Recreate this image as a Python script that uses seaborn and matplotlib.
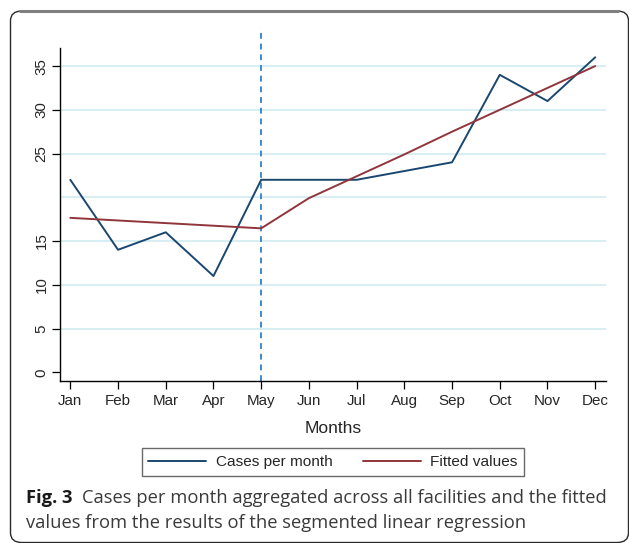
import matplotlib
matplotlib.use("Agg")
import matplotlib.pyplot as plt
import seaborn as sns
import pandas as pd
from matplotlib.patches import FancyBboxPatch
from matplotlib.lines import Line2D

months = ["Jan", "Feb", "Mar", "Apr", "May", "Jun", "Jul", "Aug", "Sep", "Oct", "Nov", "Dec"]
cases = [22, 14, 16, 11, 22, 22, 22, 23, 24, 34, 31, 36]
fitted = [17.65, 17.35, 17.05, 16.75, 16.45, 19.9, 22.4, 24.9, 27.5, 30.0, 32.5, 35.0]
ytick_vals = [0, 5, 10, 15, 25, 30, 35]
grid_vals = [5, 10, 15, 20, 25, 30, 35]
break_month = "May"

sns.set_theme(style="white")
plt.rcParams["font.family"] = ["Liberation Sans", "DejaVu Sans"]

W, H = 629, 543
fig = plt.figure(figsize=(W / 100, H / 100), dpi=100)

def fx(px):
    return px / W

def fy(py):
    return 1 - py / H

# outer rounded frame (right and bottom edges fall at the image border)
frame = FancyBboxPatch((fx(10.5), fy(542.5)), fx(628.5 - 10.5), (542.5 - 11) / H,
                       boxstyle="round,pad=0,rounding_size=0.018",
                       transform=fig.transFigure, fill=False,
                       edgecolor="#2a2a2a", linewidth=1.0, zorder=0)
fig.patches.append(frame)
fig.add_artist(Line2D([fx(20), fx(618)], [fy(11), fy(11)], color="#808080", lw=2.2,
                      transform=fig.transFigure))

ax = fig.add_axes([fx(60.3), fy(381), fx(605.7 - 60.3), (381 - 47.7) / H])

df = pd.DataFrame({
    "x": list(range(len(months))) * 2,
    "value": cases + fitted,
    "series": ["Cases per month"] * len(months) + ["Fitted values"] * len(months),
})
sns.lineplot(data=df, x="x", y="value", hue="series",
             palette={"Cases per month": "#1a476f", "Fitted values": "#90353b"},
             linewidth=1.4, ax=ax, legend=False, zorder=3)

xmin, xmax = -0.21, 11.22
ax.set_xlim(xmin, xmax)
ax.set_ylim(-1.0, 37.1)
ax.hlines(grid_vals, xmin, xmax, colors="#d8eef2", linewidth=1.5, zorder=1)

bi = months.index(break_month)
ax.plot([bi, bi], [-1.0, 39.4], color="#3d8bca", lw=1.4, ls=(0, (3.0, 2.5)),
        clip_on=False, zorder=2)

ax.set_xticks(range(len(months)))
ax.set_xticklabels(months, fontsize=10.9)
ax.set_yticks(ytick_vals)
ax.set_yticklabels([str(v) for v in ytick_vals], fontsize=10.9, rotation=90, va="center")
ax.tick_params(axis="both", which="both", length=5.5, width=0.9, color="black",
               direction="out", bottom=True, left=True, pad=4)
ax.tick_params(axis="y", pad=3)
for s in ["top", "right"]:
    ax.spines[s].set_visible(False)
for s in ["left", "bottom"]:
    ax.spines[s].set_color("black")
    ax.spines[s].set_linewidth(1.0)
ax.set_xlabel("Months", fontsize=12.5, labelpad=9)
ax.set_ylabel("")
ax.set_facecolor("white")

handles = [Line2D([], [], color="#1a476f", lw=1.4), Line2D([], [], color="#90353b", lw=1.4)]
leg = fig.legend(handles, ["Cases per month", "Fitted values"], ncol=2,
                 loc="center", bbox_to_anchor=((fx(138.7) + fx(527.3)) / 2, fy(462)),
                 fontsize=11.1, frameon=True, fancybox=False, handlelength=3.75,
                 columnspacing=2.0, handletextpad=0.6, borderpad=0.45)
leg.get_frame().set_edgecolor("#444444")
leg.get_frame().set_linewidth(1.0)

# caption
cap_font = ["Open Sans", "DejaVu Sans"]
t1 = fig.text(fx(26), fy(498), "Fig. 3", fontsize=13.2, fontweight="bold",
              color="#1a1a1a", family=cap_font, va="center")
fig.canvas.draw()
r = fig.canvas.get_renderer()
bb = t1.get_window_extent(r)
fig.text(bb.x1 / W + fx(9), fy(498), "Cases per month aggregated across all facilities and the fitted",
         fontsize=13.2, color="#3a3a3a", family=cap_font, va="center")
fig.text(fx(26), fy(523.5), "values from the results of the segmented linear regression",
         fontsize=13.2, color="#3a3a3a", family=cap_font, va="center")

fig.savefig("out.png", dpi=100)
